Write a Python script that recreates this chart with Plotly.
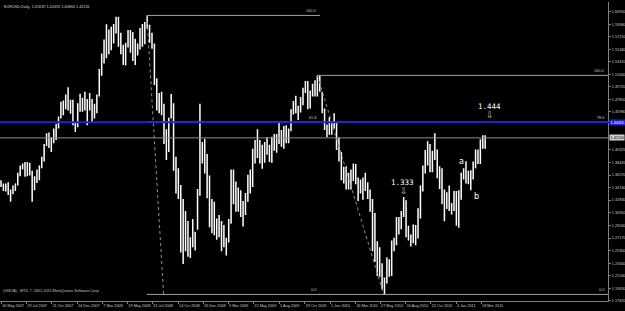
import pandas as pd
import plotly.graph_objects as go

# ---------------- data (weekly bars) ----------------
week_start = pd.date_range("2007-05-07", "2011-03-28", freq="W-MON")

high = [
    # 2007 (from 7 May)
    1.3610, 1.3580, 1.3530, 1.3530, 1.3550, 1.3440, 1.3500, 1.3530, 1.3690, 1.3800, 1.3830, 1.3852,
    1.3850, 1.3840, 1.3720, 1.3640, 1.3740, 1.3800, 1.3930, 1.4120, 1.4280, 1.4290, 1.4220, 1.4350,
    1.4420, 1.4530, 1.4750, 1.4770, 1.4860, 1.4967, 1.4780, 1.4780, 1.4450, 1.4730, 1.4870,
    # 2008
    1.4810, 1.4900, 1.4790, 1.4880, 1.4790, 1.4720, 1.4860, 1.5240, 1.5470, 1.5680, 1.5905, 1.5830,
    1.5870, 1.5910, 1.6019, 1.6018, 1.5780, 1.5600, 1.5630, 1.5820, 1.5820, 1.5790, 1.5690, 1.5620,
    1.5850, 1.5910, 1.5940, 1.6038, 1.5900, 1.5780, 1.5620, 1.5100, 1.4880, 1.4900, 1.4720, 1.4340,
    1.4510, 1.4867, 1.4730, 1.3930, 1.3760, 1.3510, 1.3300, 1.3120, 1.2970, 1.2730, 1.3000, 1.2810,
    1.3450, 1.4720, 1.4150, 1.4200,
    # 2009
    1.3970, 1.3650, 1.3300, 1.3260, 1.3010, 1.3060, 1.2970, 1.2910, 1.2720, 1.3000, 1.3740, 1.3740,
    1.3560, 1.3470, 1.3430, 1.3270, 1.3390, 1.3660, 1.3740, 1.4050, 1.4180, 1.4340, 1.4180, 1.4110,
    1.4150, 1.4220, 1.4110, 1.4230, 1.4270, 1.4270, 1.4450, 1.4330, 1.4390, 1.4400, 1.4350, 1.4640,
    1.4760, 1.4840, 1.4690, 1.4820, 1.4960, 1.5060, 1.5060, 1.4920, 1.5020, 1.5070, 1.5144, 1.5140,
    1.4900, 1.4650, 1.4410, 1.4520,
    # 2010
    1.4460, 1.4580, 1.4440, 1.4220, 1.4000, 1.3780, 1.3790, 1.3690, 1.3740, 1.3830, 1.3820, 1.3620,
    1.3590, 1.3620, 1.3690, 1.3550, 1.3440, 1.3300, 1.3090, 1.2670, 1.2580, 1.2340, 1.2130, 1.2430,
    1.2400, 1.2680, 1.2720, 1.3030, 1.3030, 1.3120, 1.3330, 1.3280, 1.2900, 1.2770, 1.2920, 1.2910,
    1.3160, 1.3500, 1.3800, 1.4030, 1.4160, 1.4120, 1.4020, 1.4282, 1.4040, 1.3790, 1.3760, 1.3440,
    1.3400, 1.3500, 1.3240, 1.3420,
    # 2011
    1.3420, 1.3430, 1.3690, 1.3760, 1.3862, 1.3720, 1.3730, 1.3860, 1.4040, 1.4040, 1.4190, 1.4250,
    1.4250,
]
low = [
    1.3480, 1.3480, 1.3420, 1.3410, 1.3360, 1.3260, 1.3370, 1.3420, 1.3500, 1.3640, 1.3740, 1.3630,
    1.3640, 1.3650, 1.3260, 1.3430, 1.3540, 1.3580, 1.3760, 1.3860, 1.4090, 1.4060, 1.4000, 1.4130,
    1.4180, 1.4350, 1.4500, 1.4550, 1.4640, 1.4620, 1.4570, 1.4400, 1.4300, 1.4370, 1.4600,
    1.4600, 1.4620, 1.4400, 1.4620, 1.4440, 1.4500, 1.4580, 1.4830, 1.5140, 1.5320, 1.5400, 1.5460,
    1.5520, 1.5620, 1.5770, 1.5570, 1.5460, 1.5300, 1.5290, 1.5560, 1.5480, 1.5360, 1.5300, 1.5440,
    1.5530, 1.5570, 1.5610, 1.5840, 1.5630, 1.5540, 1.5000, 1.4620, 1.4580, 1.4550, 1.4120, 1.3880,
    1.4000, 1.4500, 1.3720, 1.3380, 1.3300, 1.2500, 1.2330, 1.2520, 1.2440, 1.2420, 1.2580, 1.2530,
    1.2840, 1.3350, 1.3830, 1.3680,
    1.3310, 1.2880, 1.2790, 1.2760, 1.2690, 1.2730, 1.2520, 1.2580, 1.2456, 1.2650, 1.2930, 1.3220,
    1.3110, 1.3110, 1.3030, 1.2890, 1.3060, 1.3260, 1.3380, 1.3480, 1.3830, 1.3910, 1.3830, 1.3750,
    1.3840, 1.3960, 1.3850, 1.3840, 1.4020, 1.3990, 1.4120, 1.4080, 1.4050, 1.4130, 1.4130, 1.4310,
    1.4560, 1.4580, 1.4480, 1.4590, 1.4700, 1.4880, 1.4640, 1.4650, 1.4830, 1.4830, 1.4830, 1.4900,
    1.4580, 1.4330, 1.4220, 1.4260,
    1.4260, 1.4350, 1.4030, 1.3860, 1.3580, 1.3530, 1.3440, 1.3440, 1.3440, 1.3570, 1.3520, 1.3270,
    1.3380, 1.3290, 1.3420, 1.3300, 1.3110, 1.2520, 1.2360, 1.2150, 1.2140, 1.1950, 1.1876, 1.2040,
    1.2140, 1.2150, 1.2520, 1.2610, 1.2770, 1.2850, 1.3030, 1.2730, 1.2680, 1.2590, 1.2640, 1.2610,
    1.2710, 1.3010, 1.3410, 1.3680, 1.3800, 1.3700, 1.3700, 1.3880, 1.3610, 1.3450, 1.3220, 1.2969,
    1.3150, 1.3120, 1.3070, 1.3120,
    1.2900, 1.2870, 1.3290, 1.3590, 1.3530, 1.3520, 1.3430, 1.3590, 1.3760, 1.3820, 1.3820, 1.4050,
    1.4050,
]
close = [
    1.3500, 1.3520, 1.3450, 1.3520, 1.3370, 1.3420, 1.3500, 1.3540, 1.3680, 1.3790, 1.3810, 1.3680,
    1.3830, 1.3700, 1.3440, 1.3620, 1.3640, 1.3800, 1.3870, 1.4110, 1.4260, 1.4110, 1.4200, 1.4310,
    1.4420, 1.4500, 1.4640, 1.4640, 1.4860, 1.4670, 1.4650, 1.4410, 1.4400, 1.4720, 1.4750,
    1.4780, 1.4640, 1.4690, 1.4780, 1.4520, 1.4680, 1.4810, 1.5180, 1.5360, 1.5670, 1.5440, 1.5790,
    1.5830, 1.5810, 1.5850, 1.5630, 1.5470, 1.5380, 1.5610, 1.5760, 1.5530, 1.5790, 1.5470, 1.5620,
    1.5780, 1.5690, 1.5950, 1.5860, 1.5700, 1.5560, 1.5010, 1.4680, 1.4850, 1.4680, 1.4280, 1.4220,
    1.4480, 1.4640, 1.3750, 1.3420, 1.3420, 1.2520, 1.2950, 1.2750, 1.2650, 1.2580, 1.2690, 1.2720,
    1.3420, 1.3960, 1.3960, 1.3820,
    1.3400, 1.3200, 1.2950, 1.2810, 1.2940, 1.2830, 1.2960, 1.2660, 1.2630, 1.2960, 1.3590, 1.3270,
    1.3510, 1.3160, 1.3070, 1.3240, 1.3340, 1.3630, 1.3520, 1.4000, 1.4140, 1.3920, 1.3980, 1.3960,
    1.4120, 1.3990, 1.3970, 1.4170, 1.4210, 1.4230, 1.4180, 1.4200, 1.4330, 1.4300, 1.4320, 1.4610,
    1.4690, 1.4680, 1.4580, 1.4740, 1.4950, 1.5000, 1.4720, 1.4870, 1.4900, 1.4910, 1.4970, 1.4910,
    1.4600, 1.4340, 1.4370, 1.4320,
    1.4410, 1.4380, 1.4140, 1.3870, 1.3680, 1.3580, 1.3610, 1.3630, 1.3630, 1.3770, 1.3530, 1.3420,
    1.3440, 1.3620, 1.3500, 1.3370, 1.3210, 1.2750, 1.2390, 1.2580, 1.2260, 1.1970, 1.2110, 1.2390,
    1.2380, 1.2650, 1.2640, 1.2940, 1.2910, 1.3050, 1.3280, 1.2760, 1.2710, 1.2750, 1.2900, 1.2750,
    1.3040, 1.3490, 1.3790, 1.3950, 1.3980, 1.3960, 1.3940, 1.4030, 1.3690, 1.3670, 1.3240, 1.3400,
    1.3240, 1.3200, 1.3190, 1.3370,
    1.2910, 1.3380, 1.3610, 1.3620, 1.3570, 1.3540, 1.3690, 1.3750, 1.3990, 1.3900, 1.4180, 1.4080,
    1.42116,
]
first_open = 1.3540

# price-axis labels and date-axis labels
y_tick_labels = ["1.17820", "1.19650", "1.21540", "1.23400", "1.25300", "1.27170", "1.29040",
                 "1.30950", "1.32830", "1.34740", "1.36570", "1.38445", "1.40325",
                 "1.45980", "1.47850", "1.49720", "1.51600", "1.53470", "1.55340", "1.57210",
                 "1.59080", "1.60950"]
x_tick_dates = ["2007-05-16", "2007-07-29", "2007-10-11", "2007-12-24", "2008-03-07", "2008-05-19",
                "2008-07-31", "2008-10-14", "2008-12-26", "2009-03-09", "2009-05-22", "2009-08-05",
                "2009-10-19", "2010-01-01", "2010-03-16", "2010-05-27", "2010-08-10", "2010-10-22",
                "2011-01-04", "2011-03-18"]
x_tick_labels = ["16 May 2007", "29 Jul 2007", "11 Oct 2007", "24 Dec 2007", "7 Mar 2008",
                 "19 May 2008", "31 Jul 2008", "14 Oct 2008", "26 Dec 2008", "9 Mar 2009",
                 "22 May 2009", "5 Aug 2009", "19 Oct 2009", "1 Jan 2010", "16 Mar 2010",
                 "27 May 2010", "10 Aug 2010", "22 Oct 2010", "4 Jan 2011", "18 Mar 2011"]

# Fibonacci objects (anchors = swing high / swing low)
fib1_hi = ("2008-07-15", 1.6038)
fib1_lo = ("2008-09-02", 1.1876)
fib1_end = "2009-12-03"
fib1_levels = [0.0, 61.8, 100.0]
fib2_hi = ("2009-11-25", 1.5144)
fib2_lo = ("2010-06-07", 1.1876)
fib2_levels = [0.0, 78.6, 100.0]
blue_level = 1.4445
blue_label = "1.44455"
last_price = 1.42116
header = "EURUSD,Daily  1.41639 1.42459 1.40864 1.42116"
copyright_txt = "(GNOA) - MT4, \u00a9 2001-2011 MetaQuotes Software Corp."

# ---------------- figure ----------------
bar_dates = week_start + pd.Timedelta(days=2)
opens = [first_open] + close[:-1]

px_per_day = 0.3424
x0 = pd.Timestamp("2007-05-16") - pd.Timedelta(days=1 / px_per_day)
x1 = x0 + pd.Timedelta(days=608 / px_per_day)
y_lo = 1.1778
y_hi = y_lo + 299 / 670.3

fig = go.Figure()
fig.add_trace(go.Ohlc(
    x=bar_dates, open=opens, high=high, low=low, close=close,
    increasing=dict(line=dict(color="#ffffff", width=1.5)),
    decreasing=dict(line=dict(color="#ffffff", width=1.5)),
    tickwidth=0.05, showlegend=False, hoverinfo="skip"))

FIBC = "#a0a0a0"
FONT = "Liberation Sans, Arial"
small = dict(family=FONT, size=3.8, color="#c8c8c8")
shapes = []
annots = []

def fib(hi, lo, levels, x_end):
    shapes.append(dict(type="line", xref="x", yref="y", x0=hi[0], y0=hi[1], x1=lo[0], y1=lo[1],
                       line=dict(color="#909090", width=1, dash="dot")))
    for lv in levels:
        yv = lo[1] + (hi[1] - lo[1]) * lv / 100.0
        shapes.append(dict(type="line", xref="x", yref="y", x0=hi[0], x1=x_end, y0=yv, y1=yv,
                           line=dict(color=FIBC, width=1)))
        annots.append(dict(x=x_end, y=yv, xref="x", yref="y", text=f"{lv:.1f}", showarrow=False,
                           xanchor="right", yanchor="bottom", xshift=-2, yshift=0,
                           font=dict(family=FONT, size=3.8, color="#c8c8c8")))

fib(fib1_hi, fib1_lo, fib1_levels, fib1_end)
fib(fib2_hi, fib2_lo, fib2_levels, x1)

# current price line and blue horizontal line
shapes.append(dict(type="line", xref="paper", yref="y", x0=0, x1=1, y0=last_price, y1=last_price,
                   line=dict(color="#8c8c8c", width=1)))
shapes.append(dict(type="line", xref="paper", yref="y", x0=0, x1=1.03, y0=blue_level, y1=blue_level,
                   line=dict(color="#2222e0", width=2)))

annots.append(dict(x=1, y=blue_level, xref="paper", yref="y", text=blue_label, showarrow=False,
                   xanchor="left", xshift=1, bgcolor="#2222e0", borderpad=0.5,
                   font=dict(family=FONT, size=3.8, color="#ffffff")))
annots.append(dict(x=1, y=last_price, xref="paper", yref="y", text=f"{last_price:.5f}", showarrow=False,
                   xanchor="left", xshift=1, bgcolor="#d0d0d0", borderpad=0.5,
                   font=dict(family=FONT, size=3.8, color="#000000")))
annots.append(dict(x=0, y=1, xref="paper", yref="paper", text=header, showarrow=False,
                   xanchor="left", yanchor="top", xshift=2, yshift=-1,
                   font=dict(family=FONT, size=3.8, color="#d0d0d0")))
annots.append(dict(x=0, y=0, xref="paper", yref="paper", text=copyright_txt, showarrow=False,
                   xanchor="left", yanchor="bottom", xshift=1, yshift=6,
                   font=dict(family=FONT, size=3.8, color="#c0c0c0")))

# wave annotations
big = dict(family="DejaVu Sans Mono", size=7.5, color="#ffffff")
arrow_font = dict(family="DejaVu Sans", size=9, color="#d2c27a")
annots += [
    dict(x="2010-08-06", y=1.3330, xref="x", yref="y", text="\u21e9", showarrow=False,
         yanchor="bottom", yshift=-1, font=arrow_font),
    dict(x="2010-08-02", y=1.3330, xref="x", yref="y", text="1.333", showarrow=False,
         yanchor="bottom", yshift=8, font=big),
    dict(x="2011-04-12", y=blue_level, xref="x", yref="y", text="\u21e9", showarrow=False,
         yanchor="bottom", yshift=0, font=arrow_font),
    dict(x="2011-04-13", y=blue_level, xref="x", yref="y", text="1.444", showarrow=False,
         yanchor="bottom", yshift=9, font=big),
    dict(x="2011-01-21", y=1.3862, xref="x", yref="y", text="a", showarrow=False,
         font=dict(family="DejaVu Sans", size=8, color="#ffffff")),
    dict(x="2011-03-04", y=1.3430, xref="x", yref="y", text="b", showarrow=False, yshift=-6,
         font=dict(family="DejaVu Sans", size=8, color="#ffffff")),
]

fig.update_layout(
    width=625, height=311, margin=dict(l=0, r=17, t=2, b=10, autoexpand=False),
    paper_bgcolor="#000000", plot_bgcolor="#000000",
    shapes=shapes, annotations=annots, showlegend=False,
    xaxis=dict(type="date", range=[x0, x1], tickvals=x_tick_dates, ticktext=x_tick_labels,
               tickangle=0, automargin=False,
               ticks="outside", ticklen=2, tickcolor="#808080", tickfont=small,
               ticklabelposition="outside right",
               showline=True, linecolor="#808080", linewidth=1, showgrid=False, zeroline=False,
               rangeslider=dict(visible=False), fixedrange=True),
    yaxis=dict(range=[y_lo, y_hi], side="right", tickvals=[float(t) for t in y_tick_labels],
               ticktext=y_tick_labels, ticks="outside", ticklen=2, tickcolor="#808080",
               tickfont=small, showline=True, linecolor="#808080", linewidth=1, automargin=False,
               showgrid=False, zeroline=False, fixedrange=True),
)

fig.write_html("out.html")
